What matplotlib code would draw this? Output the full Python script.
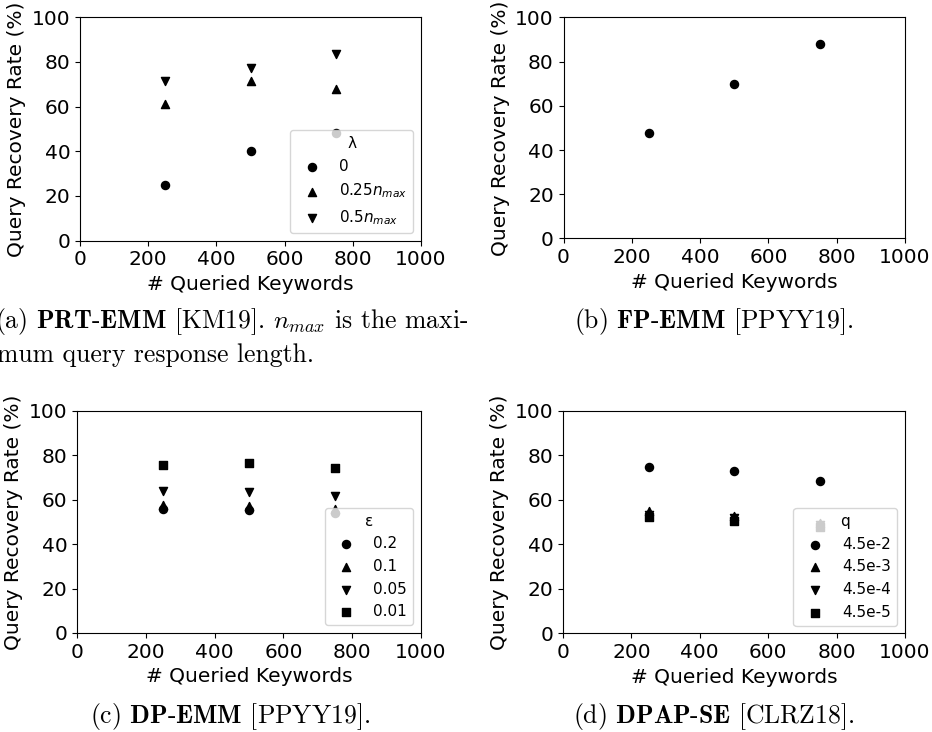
import matplotlib
matplotlib.use('Agg')
import matplotlib.pyplot as plt

# number of queried keywords (same for every panel)
x_keywords = [250, 500, 750]
markers = ['o', '^', 'v', 's']

# (a) PRT-EMM, lambda values
prt_labels = ['0', r'0.25$n_{max}$', r'0.5$n_{max}$']
prt_rates = [
    [24.7, 40.0, 48.2],
    [61.1, 71.5, 67.9],
    [71.4, 77.4, 83.5],
]

# (b) FP-EMM
fp_rates = [47.6, 69.8, 87.8]

# (c) DP-EMM, epsilon values
dp_labels = ['0.2', '0.1', '0.05', '0.01']
dp_rates = [
    [56.0, 55.3, 53.8],
    [57.8, 57.1, 56.0],
    [64.0, 63.4, 61.6],
    [75.5, 76.6, 74.3],
]

# (d) DPAP-SE, q values
dpap_labels = ['4.5e-2', '4.5e-3', '4.5e-4', '4.5e-5']
dpap_rates = [
    [74.7, 72.9, 68.6],
    [54.9, 52.7, 49.7],
    [53.0, 51.6, 48.5],
    [52.1, 50.6, 47.6],
]

W, H = 932, 732
fig = plt.figure(figsize=(W / 100, H / 100), dpi=100)


def make_axes(left, top, right, bottom):
    # pixel box -> figure fraction
    ax = fig.add_axes([left / W, 1 - bottom / H, (right - left) / W, (bottom - top) / H])
    ax.set_xlim(0, 1000)
    ax.set_ylim(0, 100)
    ax.set_xticks(range(0, 1001, 200))
    ax.set_yticks(range(0, 101, 20))
    ax.tick_params(labelsize=14.5)
    ax.set_xlabel('# Queried Keywords', fontsize=14.5)
    ax.set_ylabel('Query Recovery Rate (%)', fontsize=14.5)
    for sp in ax.spines.values():
        sp.set_linewidth(0.8)
    return ax


def draw_series(ax, rates, labels, title):
    for vals, lab, m in zip(rates, labels, markers):
        ax.scatter(x_keywords, vals, marker=m, color='black', s=34, label=lab)
    ax.legend(title=title, loc='lower right', fontsize=11, title_fontsize=11)


ax_a = make_axes(80, 17.3, 421, 240.5)
draw_series(ax_a, prt_rates, prt_labels, 'λ')

ax_b = make_axes(563.5, 17.3, 905, 238.5)
ax_b.scatter(x_keywords, fp_rates, marker='o', color='black', s=34)

ax_c = make_axes(77, 410.7, 421, 633)
draw_series(ax_c, dp_rates, dp_labels, 'ε')

ax_d = make_axes(563, 410.7, 905, 633.3)
draw_series(ax_d, dpap_rates, dpap_labels, 'q')

# sub-figure captions (LaTeX look)
cap = dict(family='cmr10', math_fontfamily='cm', fontsize=18.5, va='center')
fig.text(-5 / W, 1 - 322 / H, r'(a) $\mathbf{PRT}$-$\mathbf{EMM}$ [KM19]. $n_{max}$ is the maxi-',
         ha='left', **cap)
fig.text(-3 / W, 1 - 355 / H, 'mum query response length.', ha='left', **cap)
fig.text(714 / W, 1 - 322 / H, r'(b) $\mathbf{FP}$-$\mathbf{EMM}$ [PPYY19].', ha='center', **cap)
fig.text(230 / W, 1 - 716 / H, r'(c) $\mathbf{DP}$-$\mathbf{EMM}$ [PPYY19].', ha='center', **cap)
fig.text(714 / W, 1 - 716 / H, r'(d) $\mathbf{DPAP}$-$\mathbf{SE}$ [CLRZ18].', ha='center', **cap)

fig.savefig('out.png', dpi=100)
